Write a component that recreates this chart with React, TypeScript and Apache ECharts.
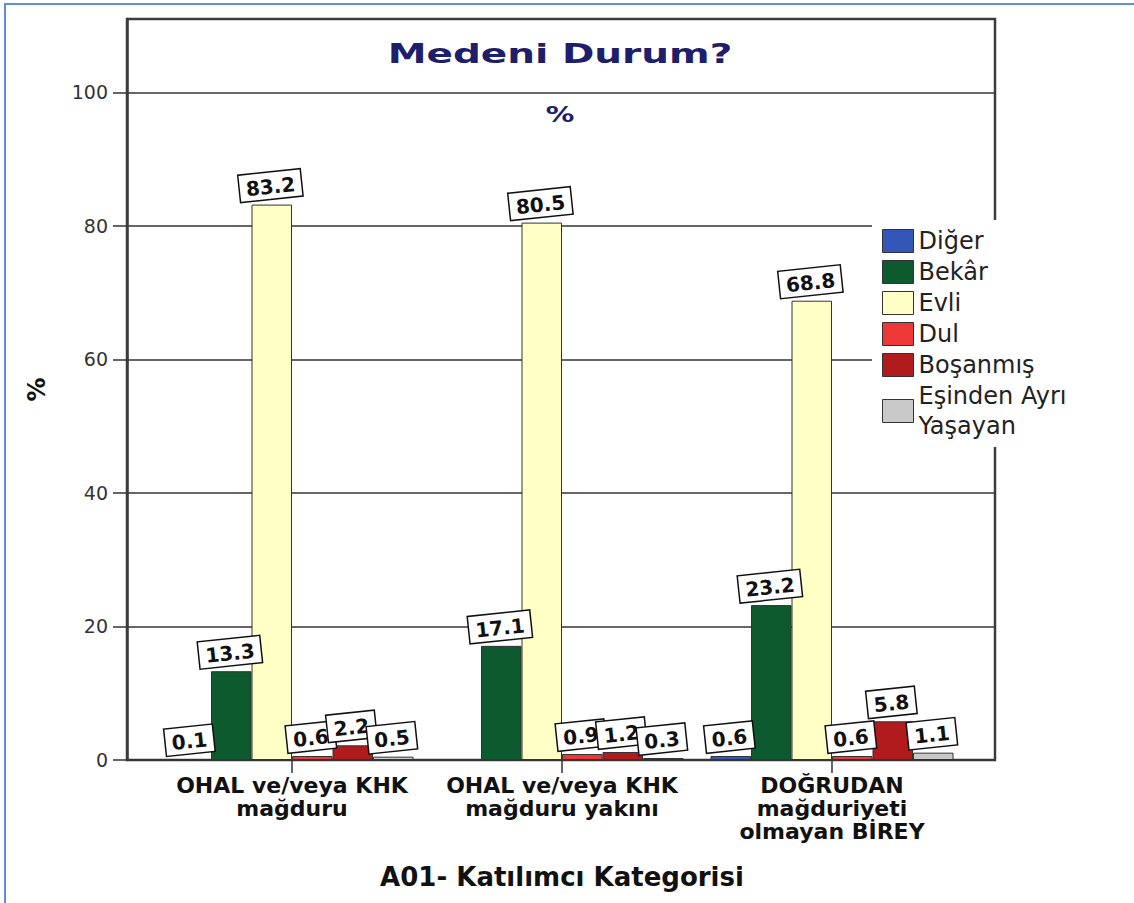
import React, { useEffect, useRef } from 'react';
import * as echarts from 'echarts';

const categories = [
  'OHAL ve/veya KHK\nmağduru',
  'OHAL ve/veya KHK\nmağduru yakını',
  'DOĞRUDAN\nmağduriyeti\nolmayan BİREY',
];
const seriesNames = ['Diğer', 'Bekâr', 'Evli', 'Dul', 'Boşanmış', 'Eşinden Ayrı\nYaşayan'];
const diger = [0.1, null, 0.6];
const bekar = [13.3, 17.1, 23.2];
const evli = [83.2, 80.5, 68.8];
const dul = [0.6, 0.9, 0.6];
const bosanmis = [2.2, 1.2, 5.8];
const esinden = [0.5, 0.3, 1.1];
const yTicks = [0, 20, 40, 60, 80, 100];
const colors = ['#3456b8', '#0c5a2d', '#ffffc6', '#ee3737', '#b11b1e', '#c9c9c9'];

const FONT = 'DejaVu Sans';

export default function App() {
  const ref = useRef<HTMLDivElement>(null);
  useEffect(() => {
    const chart = echarts.init(ref.current!, null, { renderer: 'svg' });
    const values = [diger, bekar, evli, dul, bosanmis, esinden];
    chart.setOption({
      animation: false,
      backgroundColor: '#ffffff',
      legend: {
        orient: 'vertical',
        left: 872,
        top: 220,
        padding: [6, 20, 6, 10],
        backgroundColor: '#ffffff',
        itemWidth: 31,
        itemHeight: 23,
        itemGap: 1,
        icon: 'rect',
        selectedMode: false,
        itemStyle: { borderColor: '#333', borderWidth: 1 },
        textStyle: { fontFamily: FONT, fontSize: 24, color: '#222', lineHeight: 30 },
        data: seriesNames,
      },
      grid: [
        { left: 127, top: 19, width: 868, height: 741, show: true, borderColor: '#3c3c3c', borderWidth: 2.5, backgroundColor: 'transparent' },
        { left: 157, top: 19, width: 810, height: 741 },
      ],
      xAxis: [
        { gridIndex: 0, type: 'value', show: false, min: 0, max: 1 },
        {
          gridIndex: 1,
          type: 'category',
          data: categories,
          axisLine: { show: false },
          axisTick: { show: true, alignWithLabel: true, length: 13, lineStyle: { color: '#333', width: 1.5 } },
          axisLabel: {
            interval: 0,
            margin: 14,
            fontFamily: FONT,
            fontWeight: 'bold',
            fontSize: 22,
            lineHeight: 23,
            color: '#111',
          },
          name: 'A01- Katılımcı Kategorisi',
          nameLocation: 'middle',
          nameGap: 104,
          nameTextStyle: { fontFamily: FONT, fontWeight: 'bold', fontSize: 26, color: '#111' },
        },
      ],
      yAxis: [
        {
          gridIndex: 0,
          type: 'value',
          min: 0,
          max: 111,
          interval: 20,
          axisLine: { show: true, lineStyle: { color: '#3c3c3c', width: 2.5 } },
          axisTick: { show: true, length: 14, customValues: yTicks, lineStyle: { color: '#333', width: 1.5 } },
          axisLabel: {
            margin: 19,
            fontFamily: FONT,
            fontSize: 19,
            color: '#333',
            customValues: yTicks,
            formatter: (v: number) => (v % 20 === 0 ? String(v) : ''),
          },
          splitLine: { show: true, lineStyle: { color: '#333', width: 1.5 } },
          name: '%',
          nameLocation: 'middle',
          nameGap: 78,
          nameTextStyle: { fontFamily: FONT, fontWeight: 'bold', fontSize: 24, color: '#111' },
        },
        { gridIndex: 1, type: 'value', min: 0, max: 111, show: false },
      ],
      series: values.map((d, i) => ({
        type: 'bar',
        name: seriesNames[i],
        xAxisIndex: 1,
        yAxisIndex: 1,
        data: d,
        barGap: '0%',
        barCategoryGap: '10%',
        itemStyle: { color: colors[i], borderColor: '#333', borderWidth: 1 },
        label: {
          show: true,
          position: 'top',
          distance: 6,
          rotate: 6,
          formatter: (p: any) => (p.value == null ? '' : Number(p.value).toFixed(1)),
          fontFamily: FONT,
          fontWeight: 'bold',
          fontSize: 20,
          color: '#111',
          backgroundColor: '#ffffff',
          borderColor: '#111',
          borderWidth: 1.5,
          padding: [4, 6, 2, 6],
        },
      })),
      graphic: [
        {
          type: 'rect',
          shape: { x: 5, y: 4, width: 1140, height: 910 },
          style: { fill: 'none', stroke: '#5b8fd6', lineWidth: 2 },
          silent: true,
        },
        {
          type: 'text',
          x: 560,
          y: 54,
          scaleX: 1.5,
          style: {
            text: 'Medeni Durum?',
            fontFamily: FONT,
            fontWeight: 'bold',
            fontSize: 26,
            fill: '#1e1e6b',
            align: 'center',
            verticalAlign: 'middle',
          },
        },
        {
          type: 'text',
          x: 560,
          y: 114,
          scaleX: 1.3,
          style: {
            text: '%',
            fontFamily: FONT,
            fontWeight: 'bold',
            fontSize: 22,
            fill: '#1e1e6b',
            align: 'center',
            verticalAlign: 'middle',
          },
        },
      ],
    });
    return () => chart.dispose();
  }, []);
  return <div ref={ref} style={{ position: 'fixed', left: 0, top: 0, width: 1134, height: 903 }} />;
}
